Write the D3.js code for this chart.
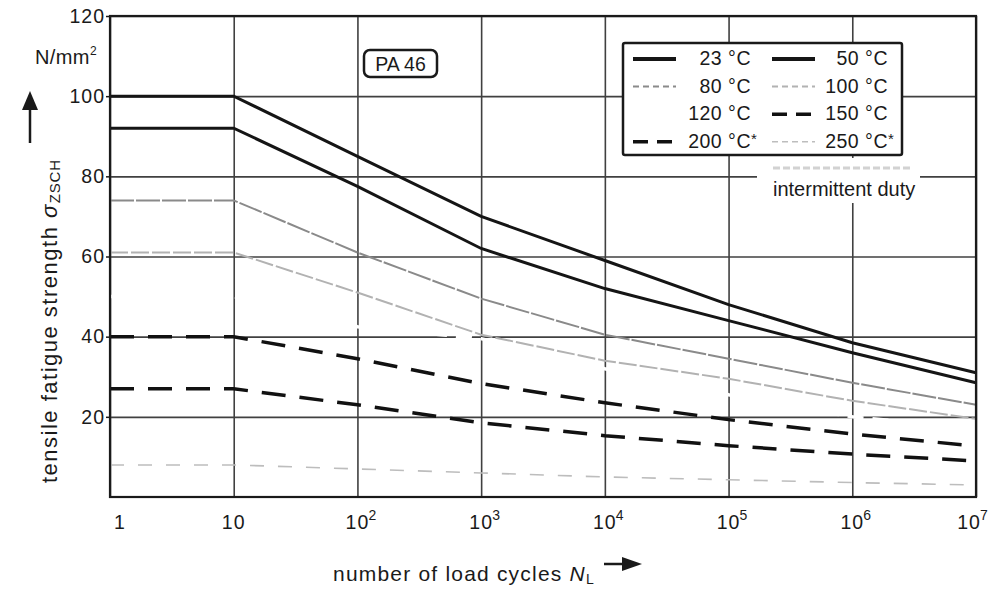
<!DOCTYPE html>
<html>
<head>
<meta charset="utf-8">
<script src="https://cdn.jsdelivr.net/npm/d3@7"></script>
<style>
  body { margin: 0; background: #fff; }
  svg { display: block; font-family: "Liberation Sans", Arial, sans-serif; }
</style>
</head>
<body>
<div id="chart"><svg width="999" height="589"></svg></div>
<script>
// load cycles N_L (x positions of the read points)
const cycles = [1, 10, 1e2, 1e3, 1e4, 1e5, 1e6, 1e7];

// tensile fatigue strength, N/mm2, one list per temperature
const s23  = [100, 100, 85, 70, 59, 48, 38.5, 31];
const s50  = [92, 92, 77.5, 62, 52, 44, 36, 28.5];
const s80  = [74, 74, 61, 49.5, 40.5, 34.5, 28.5, 23];
const s100 = [61, 61, 51, 40.5, 34, 29.5, 24, 19.5];
const s120 = [50, 50, 42.5, 39.5, 32, 25.5, 20, 17];
const s150 = [40, 40, 34.5, 28.3, 23.5, 19.3, 15.7, 12.7];
const s200 = [27, 27, 23, 18.5, 15.3, 12.8, 10.7, 9];
const s250 = [8, 8, 7, 6, 5, 4.3, 3.6, 3];

const seriesNames = ["23 °C", "50 °C", "80 °C", "100 °C", "120 °C", "150 °C", "200 °C", "250 °C"];
const seriesValues = [s23, s50, s80, s100, s120, s150, s200, s250];
const starred = ["200 °C", "250 °C"];   // marked * (intermittent duty)

const yTicks = [20, 40, 60, 80, 100, 120];
const xTickExp = [0, 1, 2, 3, 4, 5, 6, 7];

/**********************
***** BASIC SETUP *****
**********************/
const width = 999, height = 589;
const margin = {top: 16, left: 110, right: 23, bottom: 92};
const plotWidth = width - margin.left - margin.right;
const plotHeight = height - margin.top - margin.bottom;

const svg = d3.select("#chart").select("svg");

// line looks per series
const styles = {
  "23 °C":  {stroke: "#151515", width: 3,   dash: null},
  "50 °C":  {stroke: "#151515", width: 3,   dash: null},
  "80 °C":  {stroke: "#8a8a8a", width: 2,   dash: "24,2"},
  "100 °C": {stroke: "#b2b2b2", width: 2,   dash: "18,3"},
  "120 °C": {stroke: "#ffffff", width: 3.5, dash: "16,9"},
  "150 °C": {stroke: "#111111", width: 3.5, dash: "24,14"},
  "200 °C": {stroke: "#111111", width: 3.5, dash: "24,14"},
  "250 °C": {stroke: "#bdbdbd", width: 1.6, dash: "14,14"}
};

/***********************
***** X & Y SCALES *****
***********************/
const xScale = d3.scaleLog()
  .domain([1, 1e7])
  .range([0, plotWidth]);

const yScale = d3.scaleLinear()
  .domain([0, 120])
  .range([plotHeight, 0]);

const plot = svg.append("g")
  .attr("transform", `translate(${margin.left}, ${margin.top})`);

/*******************
***** GRIDLINES *****
*******************/
plot.append("g")
  .attr("class", "xGrid")
  .attr("transform", `translate(0, ${plotHeight})`)
  .call(d3.axisBottom(xScale)
    .tickValues(xTickExp.map(e => Math.pow(10, e)))
    .tickSize(-plotHeight)
    .tickFormat(""))
  .call(g => g.select(".domain").remove())
  .selectAll("line")
    .attr("stroke", "#404040")
    .attr("stroke-width", 1.6);

plot.append("g")
  .attr("class", "yGrid")
  .call(d3.axisLeft(yScale)
    .tickValues(yTicks)
    .tickSize(-plotWidth)
    .tickFormat(""))
  .call(g => g.select(".domain").remove())
  .selectAll("line")
    .attr("stroke", "#404040")
    .attr("stroke-width", 1.6);

/*****************
***** LINES *****
*****************/
const line = d3.line()
  .x(d => xScale(d.x))
  .y(d => yScale(d.y));

const series = seriesNames.map((name, i) => ({
  name: name,
  points: cycles.map((c, j) => ({x: c, y: seriesValues[i][j]}))
}));

// white 120 °C line first so it only cuts the grid
const drawOrder = ["120 °C", "250 °C", "200 °C", "150 °C", "100 °C", "80 °C", "50 °C", "23 °C"];

plot.selectAll(".curve")
  .data(drawOrder.map(n => series.find(s => s.name === n)))
  .join("path")
    .attr("class", "curve")
    .attr("d", d => line(d.points))
    .attr("fill", "none")
    .attr("stroke", d => styles[d.name].stroke)
    .attr("stroke-width", d => styles[d.name].width)
    .attr("stroke-dasharray", d => styles[d.name].dash);

// frame
plot.append("rect")
  .attr("width", plotWidth)
  .attr("height", plotHeight)
  .attr("fill", "none")
  .attr("stroke", "#1a1a1a")
  .attr("stroke-width", 2.2);

/*****************
***** AXES *****
*****************/
const yAxis = plot.append("g")
  .call(d3.axisLeft(yScale)
    .tickValues(yTicks)
    .tickSize(4)
    .tickPadding(1));
yAxis.select(".domain").remove();
yAxis.selectAll("line").attr("stroke", "#1a1a1a").attr("stroke-width", 1.5);
yAxis.selectAll("text")
  .attr("font-family", "Liberation Sans, Arial, sans-serif")
  .attr("font-size", 19.5)
  .attr("letter-spacing", 1)
  .attr("fill", "#1a1a1a");

// x tick labels: 1, 10, 10^2 ... 10^7
const xLab = plot.append("g").attr("class", "xTickLabels");
xLab.selectAll(".base")
  .data(xTickExp)
  .join("text")
    .attr("class", "base")
    .attr("x", d => xScale(Math.pow(10, d)) + (d === 0 ? 10 : (d === 7 ? -7 : 0)))
    .attr("y", plotHeight + 32)
    .attr("text-anchor", "middle")
    .attr("font-size", 19.5)
    .attr("letter-spacing", 1)
    .attr("fill", "#1a1a1a")
    .text(d => d === 0 ? "1" : "10");
xLab.selectAll(".sup")
  .data(xTickExp.filter(d => d > 1))
  .join("text")
    .attr("class", "sup")
    .attr("x", d => xScale(Math.pow(10, d)) + 11 + (d === 7 ? -7 : 0))
    .attr("y", plotHeight + 23)
    .attr("font-size", 14)
    .attr("fill", "#1a1a1a")
    .text(d => d);

/*************************
***** AXIS TITLES *****
*************************/
// y title
const yTitle = svg.append("text")
  .attr("transform", "translate(57, 483) rotate(-90)")
  .attr("font-size", 22)
  .attr("letter-spacing", 1.5)
  .attr("fill", "#1a1a1a");
yTitle.append("tspan").text("tensile fatigue strength ");
yTitle.append("tspan").attr("font-style", "italic").text("σ");
yTitle.append("tspan").attr("font-size", 15).attr("dy", 3).attr("letter-spacing", 0.8).text("ZSCH");

// unit
const unit = svg.append("text")
  .attr("x", 35).attr("y", 64)
  .attr("font-size", 20)
  .attr("letter-spacing", 0.4)
  .attr("fill", "#1a1a1a");
unit.append("tspan").text("N/mm");
unit.append("tspan").attr("font-size", 12).attr("dy", -9).text("2");

// up arrow
svg.append("line")
  .attr("x1", 30).attr("y1", 143).attr("x2", 30).attr("y2", 106)
  .attr("stroke", "#1a1a1a").attr("stroke-width", 2.5);
svg.append("path")
  .attr("d", "M22,110 L38,110 L30,91 Z")
  .attr("fill", "#1a1a1a");

// x title
const xTitle = svg.append("text")
  .attr("x", 333).attr("y", 581)
  .attr("font-size", 21)
  .attr("letter-spacing", 1.2)
  .attr("fill", "#1a1a1a");
xTitle.append("tspan").text("number of load cycles ");
xTitle.append("tspan").attr("font-style", "italic").text("N");
xTitle.append("tspan").attr("font-size", 14).attr("dy", 3).text("L");

// right arrow
svg.append("line")
  .attr("x1", 604).attr("y1", 564).attr("x2", 626).attr("y2", 564)
  .attr("stroke", "#1a1a1a").attr("stroke-width", 2.5);
svg.append("path")
  .attr("d", "M622,557 L622,571 L642,564 Z")
  .attr("fill", "#1a1a1a");

/**********************
***** PA 46 LABEL *****
**********************/
svg.append("rect")
  .attr("x", 364).attr("y", 50).attr("width", 73).attr("height", 27)
  .attr("rx", 6)
  .attr("fill", "#fff")
  .attr("stroke", "#1a1a1a")
  .attr("stroke-width", 2.5);
svg.append("text")
  .attr("x", 400.5).attr("y", 71)
  .attr("text-anchor", "middle")
  .attr("font-size", 19.5)
  .attr("fill", "#1a1a1a")
  .text("PA 46");

/*****************
***** LEGEND *****
*****************/
const legendRows = [["23 °C", "50 °C"], ["80 °C", "100 °C"], ["120 °C", "150 °C"], ["200 °C", "250 °C"]];

svg.append("rect")
  .attr("x", 623).attr("y", 43).attr("width", 279).attr("height", 112)
  .attr("rx", 2)
  .attr("fill", "#fff")
  .attr("stroke", "#1a1a1a")
  .attr("stroke-width", 2.5);

const cols = [{x1: 633, x2: 676, tx: 751}, {x1: 772, x2: 815, tx: 888}];
const legend = svg.append("g").attr("class", "legend");

legendRows.forEach((row, r) => {
  const by = 65 + r * 27.6;
  row.forEach((name, c) => {
    const st = styles[name];
    legend.append("line")
      .attr("x1", cols[c].x1).attr("x2", cols[c].x2)
      .attr("y1", by - 6).attr("y2", by - 6)
      .attr("stroke", st.stroke)
      .attr("stroke-width", st.width + (name === "23 °C" || name === "50 °C" ? 1 : 0))
      .attr("stroke-dasharray", (name === "150 °C" || name === "200 °C") ? "15,9" : (st.dash ? "6,4" : null));
    legend.append("text")
      .attr("x", cols[c].tx).attr("y", by)
      .attr("text-anchor", "end")
      .attr("font-size", 19.5)
      .attr("letter-spacing", 0.5)
      .attr("fill", "#1a1a1a")
      .text(name);
    if (starred.includes(name)) {
      legend.append("text")
        .attr("x", cols[c].tx).attr("y", by - 4)
        .attr("font-size", 15)
        .attr("fill", "#1a1a1a")
        .text("*");
    }
  });
});

/*********************
***** FOOTNOTE *****
*********************/
svg.append("rect")
  .attr("x", 757).attr("y", 158).attr("width", 163).attr("height", 45)
  .attr("fill", "#fff");
svg.append("line")
  .attr("x1", 773).attr("x2", 912).attr("y1", 168).attr("y2", 168)
  .attr("stroke", "#d2d2d2").attr("stroke-width", 3)
  .attr("stroke-dasharray", "7,3");
svg.append("text")
  .attr("x", 773).attr("y", 196)
  .attr("font-size", 20)
  .attr("fill", "#1a1a1a")
  .text("intermittent duty");
</script>
</body>
</html>
